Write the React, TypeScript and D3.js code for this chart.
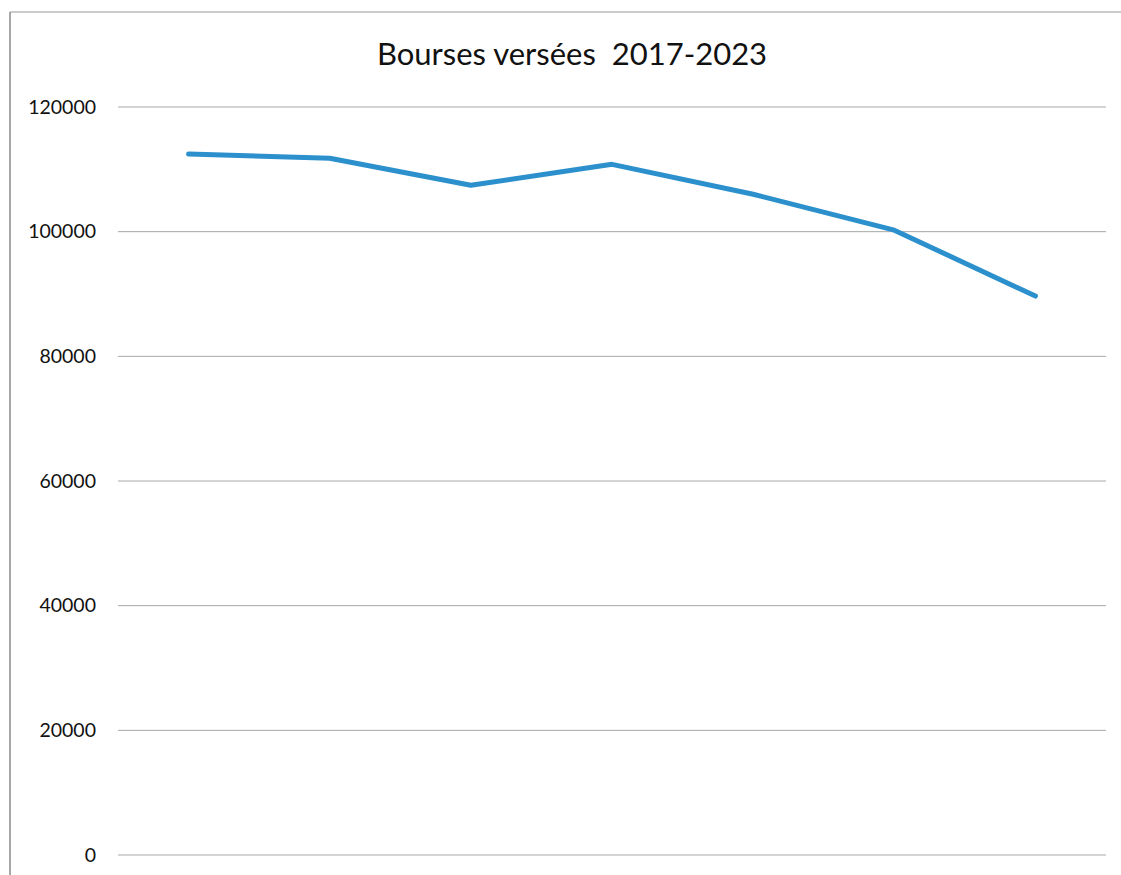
import React from "react";
import * as d3 from "d3";

const years = ["2017", "2018", "2019", "2020", "2021", "2022", "2023"];
const bourses = [112450, 111770, 107450, 110800, 106000, 100240, 89670];
const yTicks = [0, 20000, 40000, 60000, 80000, 100000, 120000];
const title = "Bourses versées\u00a0 2017-2023";

export default function App() {
  const W = 1121, H = 875;
  const left = 118, right = 1106, top = 107, bottom = 855;
  const x = d3.scaleBand<string>().domain(years).range([left, right]);
  const y = d3.scaleLinear().domain([0, 120000]).range([bottom, top]);
  const line = d3
    .line<number>()
    .x((_, i) => (x(years[i]) as number) + x.bandwidth() / 2)
    .y((d) => y(d));
  const font = "Lato, 'Open Sans', sans-serif";
  return (
    <svg
      width={W}
      height={H}
      style={{ position: "absolute", left: 0, top: 0, background: "#fff" }}
    >
      <rect x={0} y={0} width={W} height={H} fill="#fff" />
      <line x1={10} x2={W} y1={12} y2={12} stroke="#9a9a9a" strokeWidth={1.2} />
      <line x1={10} x2={10} y1={12} y2={H} stroke="#8a8a8a" strokeWidth={1.5} />
      <text
        x={572}
        y={65}
        textAnchor="middle"
        fontFamily={font}
        fontSize={31}
        fill="#111"
      >
        {title}
      </text>
      {yTicks.map((t) => (
        <g key={t}>
          <line x1={left} x2={right} y1={y(t)} y2={y(t)} stroke="#a8a8a8" strokeWidth={1} />
          <text
            x={96}
            y={y(t)}
            dy="0.35em"
            textAnchor="end"
            fontFamily={font}
            fontSize={19.5}
            fill="#111"
          >
            {t}
          </text>
        </g>
      ))}
      <path
        d={line(bourses) || ""}
        fill="none"
        stroke="#2b90cc"
        strokeWidth={5}
        strokeLinecap="round"
        strokeLinejoin="round"
      />
    </svg>
  );
}
